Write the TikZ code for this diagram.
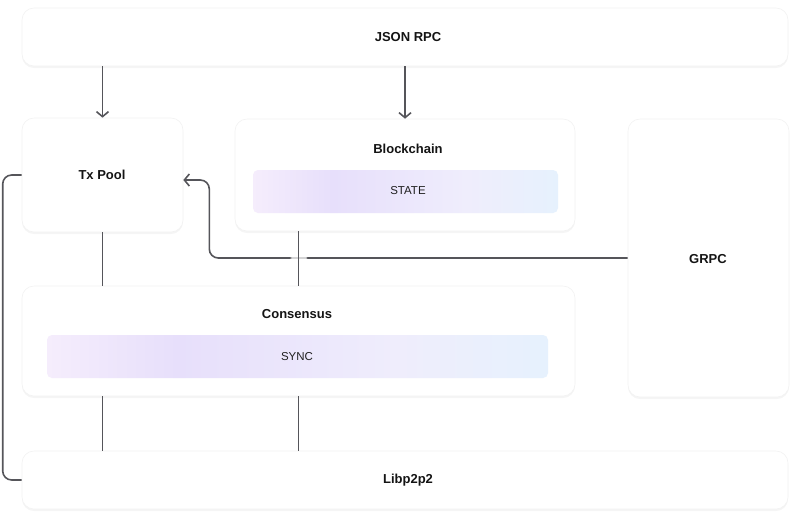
\documentclass[tikz,border=0pt]{standalone}
\usepackage{fontspec}
\setmainfont{Liberation Sans}
\usetikzlibrary{arrows.meta,shadows,fadings}
\definecolor{linegray}{HTML}{55555A}
\definecolor{barpink}{HTML}{F5EDFC}
\definecolor{barlav}{HTML}{E7DFFB}
\definecolor{barmid}{HTML}{EFEDFC}
\definecolor{barblue}{HTML}{E6F1FD}
\pgfdeclarehorizontalshading{barshade}{100bp}{color(0bp)=(barpink); color(25bp)=(barpink); color(38bp)=(barlav); color(60bp)=(barmid); color(75bp)=(barblue); color(100bp)=(barblue)}
\tikzset{
  box/.style={draw=black!5, fill=white, rounded corners=12pt, line width=0.6pt,
    drop shadow={shadow xshift=0pt, shadow yshift=-2pt, opacity=0.04, fill=black}},
  bar/.style={rounded corners=5pt, shading=barshade, draw=none},
  title/.style={font=\fontsize{13}{15}\selectfont\bfseries, text=black!92},
  sub/.style={font=\fontsize{11.5}{13}\selectfont, text=black!88},
  conn/.style={draw=linegray, line width=1.6pt},
  tip/.style={-{Straight Barb[length=5pt, width=12pt, line width=1.6pt]}}
}
\begin{document}
\begin{tikzpicture}[x=1pt, y=-1pt]
\useasboundingbox (0,0) rectangle (800,523);
% boxes
\node[box, minimum width=766pt, minimum height=58pt] (json) at (405,37) {};
\node[box, minimum width=161pt, minimum height=114pt] (txpool) at (102.5,175) {};
\node[box, minimum width=340pt, minimum height=112pt] (blockchain) at (405,175) {};
\node[box, minimum width=161pt, minimum height=278pt] (grpc) at (708.5,258) {};
\node[box, minimum width=553pt, minimum height=110pt] (consensus) at (298.5,341) {};
\node[box, minimum width=766pt, minimum height=58pt] (libp2p) at (405,480) {};
\node[bar, minimum width=305pt, minimum height=43pt] (state) at (405.5,191.5) {};
\node[bar, minimum width=501pt, minimum height=43pt] (sync) at (297.5,356.5) {};
% texts
\node[title] (tjson) at (408,37) {JSON RPC};
\node[title] (ttx) at (102,175) {Tx Pool};
\node[title] (tbc) at (408,149) {Blockchain};
\node[sub] (tstate) at (408,191) {STATE};
\node[title] (tgrpc) at (708,259) {GRPC};
\node[title] (tcons) at (297,314) {Consensus};
\node[sub] (tsync) at (297,357) {SYNC};
\node[title] (tlib) at (408,480) {Libp2p2};
% connectors
\draw[conn, tip] (json.south -| txpool) -- (txpool.north);
\draw[conn, tip] (json.south -| blockchain) -- (blockchain.north);
\draw[conn, tip, rounded corners=9pt] (grpc.west) -| ([xshift=26pt,yshift=-5pt]txpool.east) -- ([yshift=-5pt]txpool.east);
\fill[white, fill opacity=0.75, path fading=circle with fuzzy edge 20 percent] (consensus.north |- grpc.west) circle (9pt);
\draw[conn] (txpool.south) -- (txpool.south |- consensus.north);
\draw[conn] (consensus.north) -- (consensus.north |- blockchain.south);
\draw[conn] (consensus.south -| txpool) -- (libp2p.north -| txpool);
\draw[conn] (consensus.south) -- (consensus.south |- libp2p.north);
\draw[conn, rounded corners=9pt] (txpool.west) -- ++(-19,0) |- (libp2p.west);
\end{tikzpicture}
\end{document}
